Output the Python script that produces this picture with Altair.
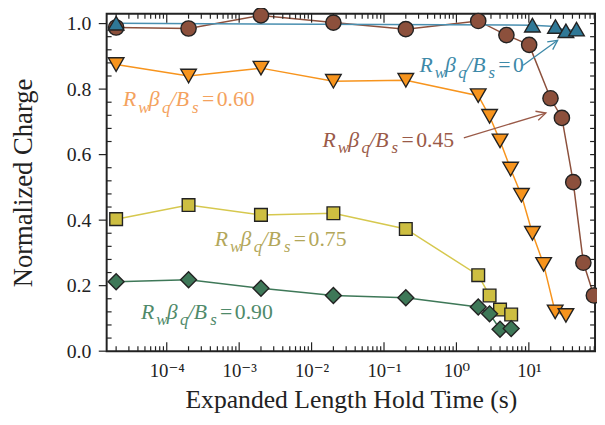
import altair as alt
import pandas as pd

SERIF = "Liberation Serif, Times New Roman, DejaVu Serif, serif"
INK = "#222222"

# ---------------- data ----------------
x_r0 = [2e-5, 11.2, 23.3, 32.5, 45.5]
y_r0 = [1.001, 0.995, 0.991, 0.978, 0.983]

x_r045 = [2e-5, 2e-4, 2e-3, 2e-2, 2e-1, 2.0, 4.9, 10.1, 19.9, 28.6, 41.0, 56.6, 79.0]
y_r045 = [0.988, 0.985, 1.025, 1.003, 0.983, 1.008, 0.965, 0.935, 0.772, 0.712, 0.516, 0.270, 0.170]

x_r060 = [2e-5, 2e-4, 2e-3, 2e-2, 2e-1, 2.0, 2.87, 4.0, 5.6, 7.9, 11.2, 16.0, 23.1, 32.5]
y_r060 = [0.875, 0.840, 0.864, 0.824, 0.827, 0.780, 0.717, 0.642, 0.556, 0.476, 0.360, 0.265, 0.120, 0.109]

x_r075 = [2e-5, 2e-4, 2e-3, 2e-2, 2e-1, 2.0, 2.87, 4.0, 5.7]
y_r075 = [0.403, 0.446, 0.416, 0.421, 0.373, 0.232, 0.170, 0.127, 0.112]

x_r090 = [2e-5, 2e-4, 2e-3, 2e-2, 2e-1, 2.0, 2.87, 4.0, 5.7]
y_r090 = [0.212, 0.218, 0.192, 0.170, 0.163, 0.135, 0.114, 0.067, 0.069]

label_values = ["0.60", "0", "0.45", "0.75", "0.90"]
label_x = [2.49e-5, 0.308, 0.01416, 4.61e-4, 4.42e-5]
label_y = [0.747, 0.852, 0.623, 0.321, 0.099]
label_colors = ["#f4a25e", "#3d89a8", "#9a5a48", "#b3a75a", "#4f8a6a"]

arrow_x1 = [8.34, 1.265]
arrow_y1 = [0.873, 0.651]
arrow_x2 = [25.0, 17.2]
arrow_y2 = [0.949, 0.727]
arrow_angle = [54.5, 73.0]
arrow_colors = ["#3d89a8", "#9a5a48"]

x_domain = [1.48e-5, 82.0]
y_domain = [0.0, 1.03]
x_major = [1e-4, 1e-3, 1e-2, 1e-1, 1.0, 10.0]
x_tick_labels = ["10⁻⁴", "10⁻³", "10⁻²", "10⁻¹", "10⁰", "10¹"]
x_minor = [k * 10.0 ** e for e in range(-5, 2) for k in range(2, 10)
           if x_domain[0] <= k * 10.0 ** e <= x_domain[1]]
y_major = [0.0, 0.2, 0.4, 0.6, 0.8, 1.0]
y_minor = [round(0.04 * i, 2) for i in range(1, 26) if i % 5]

W, H = 495, 342

xs = alt.Scale(type="log", domain=x_domain, nice=False)
ys = alt.Scale(domain=y_domain, nice=False, zero=False)

x_label_expr = "[" + ",".join("'%s'" % t for t in x_tick_labels) + "][round(log(datum.value)/LN10)+4]"

x_axis = alt.Axis(values=x_major, labelExpr=x_label_expr, ticks=False, domain=False, grid=False,
                  labelFont=SERIF, labelFontSize=19, labelColor=INK, labelPadding=11,
                  labelFlush=False, labelOverlap=False,
                  title="Expanded Length Hold Time (s)", titleFont=SERIF, titleFontSize=26,
                  titleFontWeight="normal", titleColor=INK, titleX=W / 2, titleY=57,
                  titleBaseline="alphabetic", titleAlign="center")
y_axis = alt.Axis(values=y_major, format=".1f", ticks=False, domain=False, grid=False,
                  labelFont=SERIF, labelFontSize=20, labelColor=INK, labelPadding=16,
                  labelFlush=False, labelOverlap=False,
                  title="Normalized Charge", titleFont=SERIF, titleFontSize=27,
                  titleFontWeight="normal", titleColor=INK, titleX=-76, titleY=H / 2,
                  titleAngle=-90, titleBaseline="alphabetic", titleAlign="center")

xmaj_df = pd.DataFrame({"v": x_major})
xmin_df = pd.DataFrame({"v": x_minor})
ymaj_df = pd.DataFrame({"v": y_major})
ymin_df = pd.DataFrame({"v": y_minor})

# no axis=None anywhere (it would disable the shared axis); the explicit
# axis on the first layer wins over the implicit defaults of the other layers.
def X(f):
    return alt.X(f, scale=xs)

def Y(f):
    return alt.Y(f, scale=ys)

def xticks(df, y0, y1):
    return alt.Chart(df).mark_rule(color=INK, strokeWidth=1.2).encode(
        x=X("v:Q"), y=alt.value(y0), y2=alt.value(y1))

def yticks(df, x0, x1):
    return alt.Chart(df).mark_rule(color=INK, strokeWidth=1.2).encode(
        y=Y("v:Q"), x=alt.value(x0), x2=alt.value(x1))

tick_layers = [
    xticks(xmaj_df, H, H - 9), xticks(xmin_df, H, H - 5),
    xticks(xmaj_df, 0, 9), xticks(xmin_df, 0, 5),
    yticks(ymaj_df, -8, 0), yticks(ymin_df, 0, 5),
    yticks(ymaj_df, W, W - 5), yticks(ymin_df, W, W - 5),
]

series = [
    ("0.45", x_r045, y_r045, "#8c503c", "#8c503c", "circle", 240),
    ("0.60", x_r060, y_r060, "#f7941d", "#f7941d", "triangle-down", 250),
    ("0.75", x_r075, y_r075, "#d6c84e", "#cdbe41", "square", 165),
    ("0.90", x_r090, y_r090, "#3e7858", "#3e7858", "diamond", 260),
    ("0", x_r0, y_r0, "#4a8fb0", "#2f7896", "triangle-up", 250),
]

axis_layer = alt.Chart(pd.DataFrame({"x": x_r045, "y": y_r045})).mark_point(opacity=0).encode(
    x=alt.X("x:Q", scale=xs, axis=x_axis), y=alt.Y("y:Q", scale=ys, axis=y_axis))

line_layers = []
point_layers = []
for name, sx, sy, lc, fc, shp, sz in series:
    df = pd.DataFrame({"x": sx, "y": sy})
    line_layers.append(alt.Chart(df).mark_line(color=lc, strokeWidth=1.5).encode(
        x=X("x:Q"), y=Y("y:Q")))
    point_layers.append(alt.Chart(df).mark_point(
        shape=shp, size=sz, filled=True, fill=fc, stroke=INK, strokeWidth=1.4, opacity=1
    ).encode(x=X("x:Q"), y=Y("y:Q")))

lab_df = pd.DataFrame({"x": label_x, "y": label_y, "txt": label_values, "col": label_colors})
pieces = [
    ("R", 0, 0, 22, "italic"),
    ("w", 15.5, 6.5, 17, "italic"),
    ("β", 26, 0, 22, "italic"),
    ("q", 39.5, 6.5, 17, "italic"),
    ("/", 47.5, 0, 22, "italic"),
    ("B", 53.5, 0, 22, "italic"),
    ("s", 70, 6.5, 17, "italic"),
    ("=", 80, 0, 22, "normal"),
    (None, 95, 0, 22, "normal"),
]
text_layers = []
for t, dx, dy, fs, st in pieces:
    enc = dict(x=X("x:Q"), y=Y("y:Q"), color=alt.Color("col:N", scale=None, legend=None))
    enc["text"] = alt.Text("txt:N") if t is None else alt.value(t)
    text_layers.append(alt.Chart(lab_df).mark_text(
        align="left", baseline="alphabetic", dx=dx, dy=dy, fontSize=fs, fontStyle=st, font=SERIF
    ).encode(**enc))

arr_df = pd.DataFrame({"x1": arrow_x1, "y1": arrow_y1, "x2": arrow_x2, "y2": arrow_y2,
                       "ang": arrow_angle, "col": arrow_colors})
arrow_line = alt.Chart(arr_df).mark_rule(strokeWidth=1.3).encode(
    x=X("x1:Q"), y=Y("y1:Q"), x2="x2:Q", y2="y2:Q",
    color=alt.Color("col:N", scale=None, legend=None))
arrow_head = alt.Chart(arr_df).mark_point(
    shape="M-0.8,1.6L0,0L0.8,1.6", size=144, filled=False, strokeWidth=1.3, opacity=1
).encode(x=X("x2:Q"), y=Y("y2:Q"),
         angle=alt.Angle("ang:Q", scale=None),
         color=alt.Color("col:N", scale=None, legend=None))

chart = alt.layer(
    axis_layer, *line_layers, *tick_layers, *point_layers, arrow_line, arrow_head, *text_layers
).properties(
    width=W, height=H,
    autosize=alt.AutoSizeParams(type="none"),
    padding={"left": 100, "top": 3, "right": 2, "bottom": 72},
    background="white",
).configure_view(stroke=INK, strokeWidth=2)

chart.save("out.html", embed_options={"renderer": "svg", "actions": False})
